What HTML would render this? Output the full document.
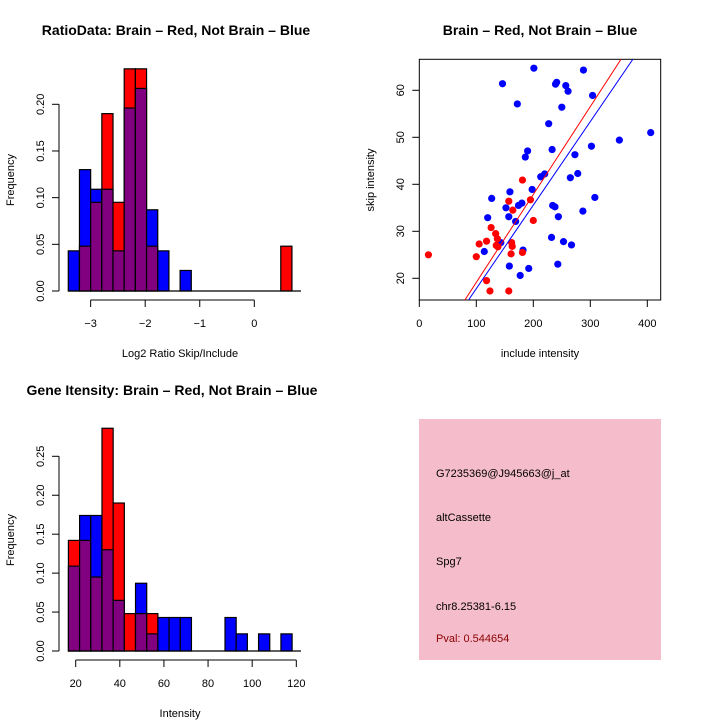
<!DOCTYPE html>
<html><head><meta charset="utf-8"><style>
body{margin:0;background:#fff}
svg{display:block;font-family:"Liberation Sans",sans-serif}
</style></head><body>
<svg id="c" width="720" height="720" viewBox="0 0 720 720">
<rect width="720" height="720" fill="#fff"/>
<text x="176" y="35" text-anchor="middle" font-size="14" font-weight="bold">RatioData: Brain – Red, Not Brain – Blue</text>
<text x="540" y="35" text-anchor="middle" font-size="14" font-weight="bold">Brain – Red, Not Brain – Blue</text>
<text x="172" y="395" text-anchor="middle" font-size="14" font-weight="bold">Gene Itensity: Brain – Red, Not Brain – Blue</text>
<g id="g1"></g>
<g id="g2"></g>
<g id="g3"></g>
<g>
<rect x="419" y="419" width="242" height="241" fill="#f5bccb"/>
<text x="436" y="477" font-size="11">G7235369@J945663@j_at</text>
<text x="436" y="521" font-size="11">altCassette</text>
<text x="436" y="565" font-size="11">Spg7</text>
<text x="436" y="610" font-size="11">chr8.25381-6.15</text>
<text x="436" y="642" font-size="11" fill="#8b0000">Pval: 0.544654</text>
</g>
</svg>
<script>
// ratio histogram data
const ratioStart = -3.41, ratioWidth = 0.205;
const ratioBlue = [0.043,0.130,0.109,0.109,0.043,0.196,0.217,0.087,0.043,0,0.022,0,0,0,0,0,0,0,0,0];
const ratioRed  = [0,0.048,0.095,0.190,0.095,0.238,0.238,0.048,0,0,0,0,0,0,0,0,0,0,0,0.048];
const ratioXTicks = [-3,-2,-1,0];
const ratioYTicks = ["0.00","0.05","0.10","0.15","0.20"];
// intensity histogram data
const intStart = 16.7, intWidth = 5.07;
const intBlue = [0.109,0.174,0.174,0.130,0.065,0,0.087,0.022,0.043,0.043,0.043,0,0,0,0.043,0.022,0,0.022,0,0.022];
const intRed  = [0.142,0.142,0.095,0.286,0.190,0.048,0.048,0.048,0,0,0,0,0,0,0,0,0,0,0,0];
const intXTicks = [20,40,60,80,100,120];
const intYTicks = ["0.00","0.05","0.10","0.15","0.20","0.25"];
// scatter data
const blueX = [201,288,146,241,239,257,261,304,172,250,227,406,351,302,233,190,186,273,220,213,278,265,198,159,127,308,180,174,152,234,238,287,157,120,244,169,232,253,267,143,114,182,158,192,243,177];
const blueY = [64.7,64.3,61.4,61.7,61.3,61.0,59.8,58.9,57.1,56.4,52.9,51.0,49.4,48.1,47.4,47.1,45.8,46.3,42.2,41.6,42.3,41.4,38.9,38.4,37.0,37.2,36.0,35.5,35.0,35.5,35.2,34.3,33.1,32.9,33.1,32.1,28.7,27.8,27.1,27.6,25.7,26.0,22.6,22.1,23.0,20.6];
const redX = [16,100,105,118,126,134,137,135,138,118,124,157,157,164,162,163,161,181,181,195,200];
const redY = [25.0,24.6,27.3,27.9,30.8,29.5,28.4,27.0,26.7,19.5,17.3,17.3,36.4,34.5,27.6,26.8,25.2,25.5,40.9,36.7,32.3];
const redFit = [0.43, 0.187];   // intercept, slope
const blueFit = [0.03, 0.1777];
const scXTicks = [0,100,200,300,400];
const scYTicks = [20,30,40,50,60];

const NS="http://www.w3.org/2000/svg";
function mk(p,t,a){const e=document.createElementNS(NS,t);for(const k in a)e.setAttribute(k,a[k]);p.appendChild(e);return e;}

function hist(g,start,w,blue,red,xs,ys,xTicks,yTicks,yStep,xlab,ylab,ylabY,axisY,x0,x1){
  const n=blue.length;
  for(let i=0;i<n;i++){
    const b=blue[i],r=red[i];
    const lx=xs(start+i*w),rx=xs(start+(i+1)*w);
    const mx=Math.max(b,r),mn=Math.min(b,r);
    if(mx>0){
      const e=mk(g,'rect',{x:lx,y:ys(mx),width:rx-lx,height:ys(0)-ys(mx),fill:b>=r?'#0000ff':'#ff0000',stroke:'#000','stroke-width':1.2});
      
      
    }
    if(mn>0){
      const e=mk(g,'rect',{x:lx,y:ys(mn),width:rx-lx,height:ys(0)-ys(mn),fill:'#800080',stroke:'#000','stroke-width':1.2});
      
      
    }
  }
  mk(g,'line',{x1:x0,x2:x1,y1:ys(0),y2:ys(0),stroke:'#000','stroke-width':1.2});
  // x axis
  mk(g,'line',{x1:xs(xTicks[0]),x2:xs(xTicks[xTicks.length-1]),y1:axisY,y2:axisY,stroke:'#000'});
  xTicks.forEach(t=>{
    mk(g,'line',{x1:xs(t),x2:xs(t),y1:axisY,y2:axisY+7,stroke:'#000'});
    const tx=mk(g,'text',{x:xs(t),y:axisY+27,'text-anchor':'middle','font-size':11});
    tx.textContent=t<0?'\u2212'+(-t):t;
    
    
  });
  // y axis
  const yt0=ys(0),yt1=ys((yTicks.length-1)*yStep);
  mk(g,'line',{x1:59,x2:59,y1:yt0,y2:yt1,stroke:'#000'});
  yTicks.forEach((t,i)=>{
    const y=ys(i*yStep);
    mk(g,'line',{x1:52,x2:59,y1:y,y2:y,stroke:'#000'});
    const tx=mk(g,'text',{x:44,y:y,'text-anchor':'middle','font-size':11,transform:`rotate(-90 44 ${y})`});
    tx.textContent=t;
    
    
  });
  const xl=mk(g,'text',{x:180,y:axisY+57,'text-anchor':'middle','font-size':11});xl.textContent=xlab;
  
  
  const yl=mk(g,'text',{x:14,y:ylabY,'text-anchor':'middle','font-size':11,transform:`rotate(-90 14 ${ylabY})`});yl.textContent=ylab;
  
  
}

// top-left
const xs1=v=>254.3+(v)*54.55, ys1=v=>291-v*(186.7/0.20);
hist(document.getElementById('g1'),ratioStart,ratioWidth,ratioBlue,ratioRed,xs1,ys1,ratioXTicks,ratioYTicks,0.05,'Log2 Ratio Skip/Include','Frequency',180,300,68,301);
// bottom-left
const xs3=v=>75.7+(v-20)*2.206, ys3=v=>651-v*(194.7/0.25);
hist(document.getElementById('g3'),intStart,intWidth,intBlue,intRed,xs3,ys3,intXTicks,intYTicks,0.05,'Intensity','Frequency',540,660,68,301);

// scatter
const g2=document.getElementById('g2');
const sx=v=>419.3+v*0.57, sy=v=>278.3-(v-20)*4.7;
const L=419.3,R=660.7,T=59.3,B=300;
mk(g2,'rect',{x:L,y:T,width:R-L,height:B-T,fill:'none',stroke:'#000'});
const cp=mk(g2,'clipPath',{id:'sc'});mk(cp,'rect',{x:L,y:T,width:R-L,height:B-T});
[[blueX,blueY,'#0000ff','blue-point'],[redX,redY,'#ff0000','red-point']].forEach(([X,Y,c,nm])=>{
  X.forEach((x,i)=>{
    const e=mk(g2,'circle',{cx:sx(x),cy:sy(Y[i]),r:3.6,fill:c});
    
    
  });
});
[[redFit,'#ff0000','red-fit-line'],[blueFit,'#0000ff','blue-fit-line']].forEach(([f,c,nm])=>{
  const xa=0,xb=420;
  const e=mk(g2,'line',{x1:sx(xa),y1:sy(f[0]+f[1]*xa),x2:sx(xb),y2:sy(f[0]+f[1]*xb),stroke:c,'stroke-width':1,'clip-path':'url(#sc)'});
  
  
});
scXTicks.forEach(t=>{
  mk(g2,'line',{x1:sx(t),x2:sx(t),y1:B,y2:B+7,stroke:'#000'});
  const tx=mk(g2,'text',{x:sx(t),y:B+27,'text-anchor':'middle','font-size':11});tx.textContent=t;
  
  
});
scYTicks.forEach(t=>{
  const y=sy(t);
  mk(g2,'line',{x1:L-7,x2:L,y1:y,y2:y,stroke:'#000'});
  const tx=mk(g2,'text',{x:404,y:y,'text-anchor':'middle','font-size':11,transform:`rotate(-90 404 ${y})`});tx.textContent=t;
  
  
});
const sxl=mk(g2,'text',{x:540,y:357,'text-anchor':'middle','font-size':11});sxl.textContent='include intensity';


const syl=mk(g2,'text',{x:374,y:180,'text-anchor':'middle','font-size':11,transform:'rotate(-90 374 180)'});syl.textContent='skip intensity';


</script>
</body></html>
